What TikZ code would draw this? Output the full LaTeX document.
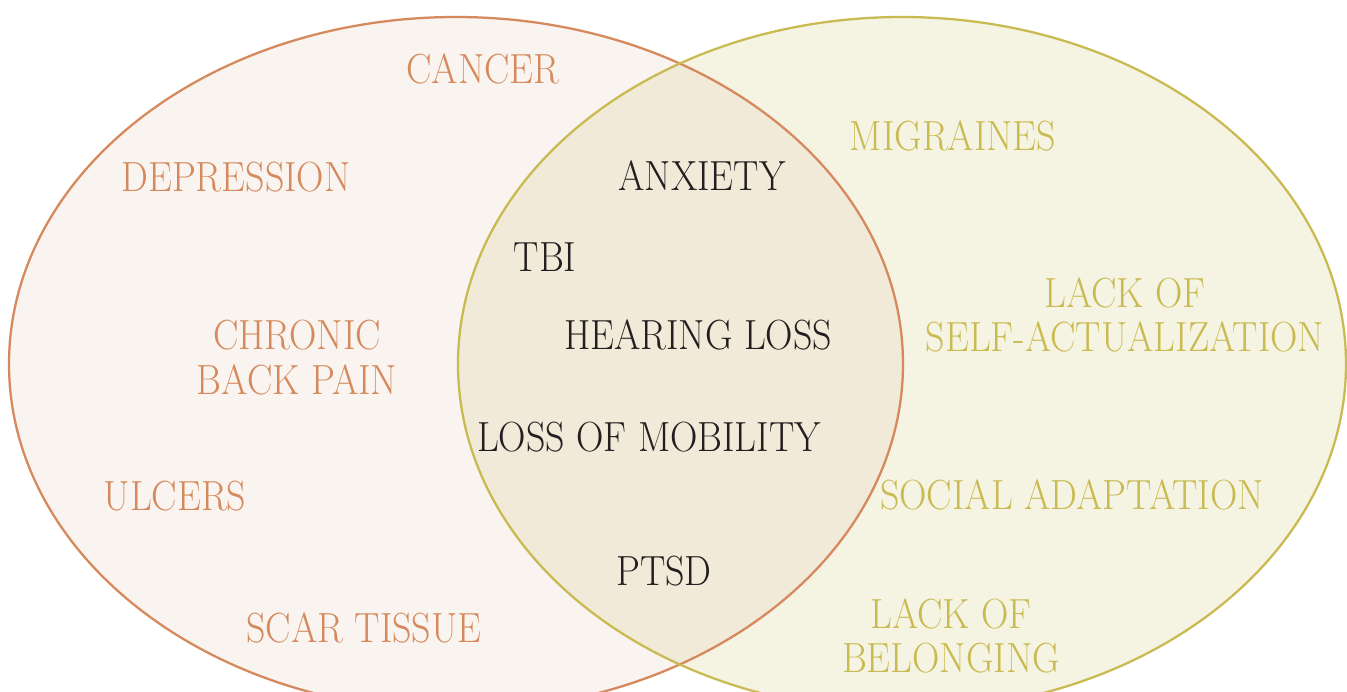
\documentclass[tikz,border=0pt]{standalone}
\usepackage{fontspec}
\setmainfont{Latin Modern Roman}[FakeStretch=0.9]
\definecolor{lstroke}{HTML}{D5895C}
\definecolor{lfill}{HTML}{F9F4EF}
\definecolor{rstroke}{HTML}{C9BA52}
\definecolor{rfill}{HTML}{F5F4E3}
\definecolor{ofill}{HTML}{F1EAD8}
\definecolor{dtext}{HTML}{231F20}
\begin{document}
\begin{tikzpicture}[x=0.02cm,y=-0.02cm,
  lbl/.style={inner sep=0pt,align=center,font=\fontsize{24}{25.5}\selectfont},
  ltxt/.style={lbl,text=lstroke},
  rtxt/.style={lbl,text=rstroke},
  ctxt/.style={lbl,text=dtext}]
\useasboundingbox (0,0) rectangle (1347,692);
\begin{scope}
\clip (0,0) rectangle (1347,692);
\fill[lfill] (456,364) ellipse [x radius=447,y radius=347];
\fill[rfill] (902,364) ellipse [x radius=444,y radius=347];
\begin{scope}
\clip (456,364) ellipse [x radius=447,y radius=347];
\fill[ofill] (902,364) ellipse [x radius=444,y radius=347];
\end{scope}
\draw[lstroke,line width=1.3pt] (456,364) ellipse [x radius=447,y radius=347];
\draw[rstroke,line width=1.3pt] (902,364) ellipse [x radius=444,y radius=347];
\end{scope}
% left set
\node[ltxt] (cancer) at (483,69) {CANCER};
\node[ltxt] (depr) at (236,177) {DEPRESSION};
\node[ltxt] (back) at (297,358) {CHRONIC\\BACK PAIN};
\node[ltxt] (ulcers) at (175,496) {ULCERS};
\node[ltxt] (scar) at (364,628) {SCAR TISSUE};
% intersection
\node[ctxt] (anx) at (702,176) {ANXIETY};
\node[ctxt] (tbi) at (545,257) {TBI};
\node[ctxt] (hear) at (698,335) {HEARING LOSS};
\node[ctxt] (mob) at (649,437) {LOSS OF MOBILITY};
\node[ctxt] (ptsd) at (664,571) {PTSD};
% right set
\node[rtxt] (migr) at (953,136) {MIGRAINES};
\node[rtxt] (self) at (1125,315) {LACK OF\\SELF-ACTUALIZATION};
\node[rtxt] (social) at (1072,495) {SOCIAL ADAPTATION};
\node[rtxt] (belong) at (951,636) {LACK OF\\BELONGING};
\end{tikzpicture}
\end{document}
